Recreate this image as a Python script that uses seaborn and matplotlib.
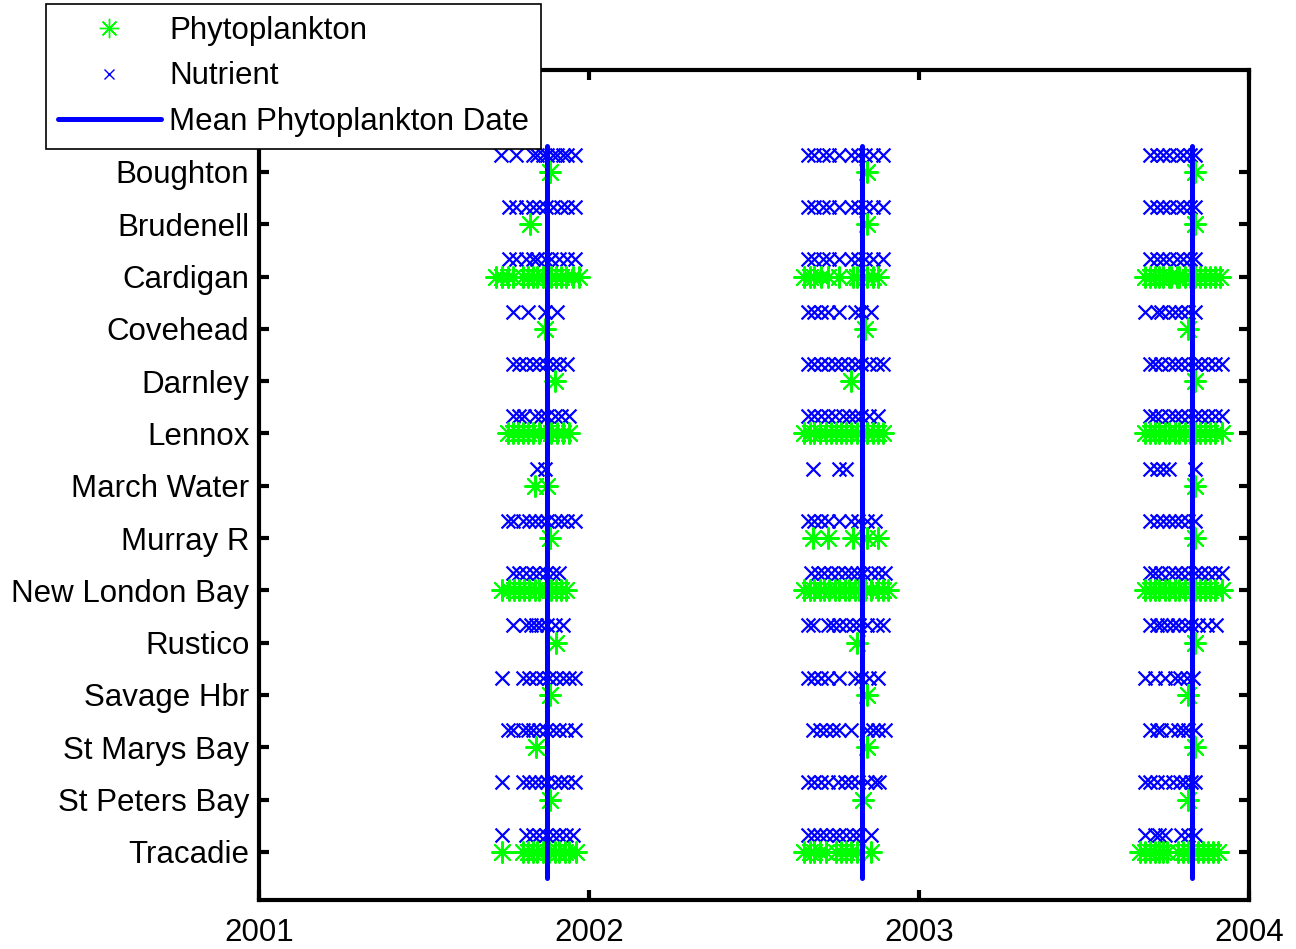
import matplotlib
matplotlib.use("Agg")
import matplotlib.pyplot as plt
import seaborn as sns
import pandas as pd
from matplotlib.lines import Line2D

# ---------------- data (day of year of each sample) ----------------
SITES = ["Boughton", "Brudenell", "Cardigan", "Covehead", "Darnley", "Lennox",
         "March Water", "Murray R", "New London Bay", "Rustico", "Savage Hbr",
         "St Marys Bay", "St Peters Bay", "Tracadie"]
YEARS = [2001, 2002, 2003]
MEAN_PHYTO_DATE = [2001.874, 2002.828, 2003.827]
X_TICKS = [2001, 2002, 2003, 2004]
X_TICK_LABELS = ["2001", "2002", "2003", "2004"]

NUTRIENT_2001 = {
    "Boughton": [268, 284, 303, 308, 314, 319, 325, 330, 336, 341, 349],
    "Brudenell": [277, 284, 295, 303, 310, 317, 325, 334, 341, 349],
    "Cardigan": [277, 284, 295, 303, 308, 316, 323, 332, 341, 349],
    "Covehead": [281, 297, 316, 330],
    "Darnley": [281, 288, 295, 303, 310, 317, 325, 332, 341],
    "Lennox": [281, 288, 293, 305, 312, 319, 327, 334, 343],
    "March Water": [308, 316],
    "Murray R": [275, 281, 292, 299, 305, 312, 319, 327, 334, 341, 349],
    "New London Bay": [281, 288, 295, 303, 310, 317, 325, 332],
    "Rustico": [281, 295, 301, 306, 312, 319, 327, 336],
    "Savage Hbr": [269, 292, 299, 306, 314, 321, 328, 336, 343, 349],
    "St Marys Bay": [275, 281, 292, 297, 303, 310, 317, 325, 332, 340, 349],
    "St Peters Bay": [269, 292, 299, 305, 312, 319, 327, 334, 341, 349],
    "Tracadie": [269, 295, 303, 310, 317, 325, 332, 340, 347],
}
PHYTO_2001 = {
    "Boughton": [322],
    "Brudenell": [300],
    "Cardigan": [262, 269, 275, 281, 292, 297, 303, 308, 314, 323, 328, 334, 340, 347, 354],
    "Covehead": [316],
    "Darnley": [327],
    "Lennox": [275, 281, 286, 292, 297, 303, 310, 317, 323, 330, 336, 343],
    "March Water": [305, 319],
    "Murray R": [322],
    "New London Bay": [269, 277, 282, 288, 293, 299, 305, 310, 317, 323, 328, 334, 340],
    "Rustico": [328],
    "Savage Hbr": [322],
    "St Marys Bay": [306],
    "St Peters Bay": [322],
    "Tracadie": [269, 292, 297, 303, 308, 314, 321, 327, 332, 338, 343, 351],
}
NUTRIENT_2002 = {
    "Boughton": [242, 249, 259, 266, 277, 290, 297, 305, 314, 325],
    "Brudenell": [242, 249, 259, 266, 277, 290, 297, 305, 314, 325],
    "Cardigan": [242, 249, 259, 266, 277, 290, 297, 305, 314, 325],
    "Covehead": [242, 249, 257, 264, 277, 294, 301, 312],
    "Darnley": [242, 249, 257, 264, 272, 279, 286, 294, 301, 310, 318, 325],
    "Lennox": [242, 249, 257, 264, 272, 281, 288, 294, 301, 310, 320],
    "March Water": [248, 277, 284],
    "Murray R": [242, 249, 257, 264, 277, 290, 297, 308, 316],
    "New London Bay": [246, 253, 260, 268, 275, 283, 290, 296, 303, 312, 320, 327],
    "Rustico": [242, 248, 264, 270, 277, 284, 292, 299, 308, 318, 325],
    "Savage Hbr": [242, 249, 257, 264, 277, 294, 301, 310, 320],
    "St Marys Bay": [248, 255, 262, 270, 277, 290, 308, 314, 320, 327],
    "St Peters Bay": [242, 249, 257, 264, 275, 283, 290, 297, 307, 316, 321],
    "Tracadie": [242, 249, 255, 262, 270, 277, 284, 292, 299, 312],
}
PHYTO_2002 = {
    "Boughton": [308],
    "Brudenell": [308],
    "Cardigan": [238, 244, 249, 257, 264, 277, 292, 296, 307, 314, 320],
    "Covehead": [305],
    "Darnley": [290],
    "Lennox": [238, 244, 249, 255, 262, 268, 273, 279, 284, 290, 296, 301, 308, 314, 320, 325],
    "March Water": [],
    "Murray R": [248, 264, 292, 307, 320],
    "New London Bay": [238, 244, 249, 255, 260, 266, 272, 277, 283, 288, 294, 299, 305, 312, 320, 325, 331],
    "Rustico": [296],
    "Savage Hbr": [307],
    "St Marys Bay": [308],
    "St Peters Bay": [303],
    "Tracadie": [238, 244, 249, 255, 262, 273, 279, 284, 290, 296, 312],
}
NUTRIENT_2003 = {
    "Boughton": [255, 263, 270, 277, 285, 292, 300, 305],
    "Brudenell": [255, 263, 270, 277, 285, 292, 300, 305],
    "Cardigan": [255, 263, 270, 277, 285, 292, 300, 305],
    "Covehead": [250, 263, 268, 276, 283, 290, 298, 305],
    "Darnley": [255, 261, 268, 276, 283, 290, 298, 305, 312, 320, 327, 335],
    "Lennox": [255, 261, 268, 276, 283, 290, 298, 305, 312, 320, 327, 335],
    "March Water": [255, 263, 270, 277, 305],
    "Murray R": [255, 263, 270, 277, 283, 290, 298, 305],
    "New London Bay": [255, 261, 268, 276, 283, 290, 298, 305, 312, 320, 327, 335],
    "Rustico": [255, 263, 268, 274, 281, 287, 294, 301, 309, 318, 329],
    "Savage Hbr": [250, 261, 272, 283, 289, 296, 303],
    "St Marys Bay": [255, 263, 268, 279, 287, 292, 298, 305],
    "St Peters Bay": [250, 255, 263, 272, 281, 289, 294, 301, 305],
    "Tracadie": [250, 261, 266, 272, 290, 298, 305],
}
PHYTO_2003 = {
    "Boughton": [305],
    "Brudenell": [305],
    "Cardigan": [250, 255, 261, 266, 270, 276, 279, 285, 288, 294, 300, 305, 311, 316, 322, 327, 333],
    "Covehead": [298],
    "Darnley": [305],
    "Lennox": [250, 255, 261, 266, 272, 277, 283, 288, 294, 300, 305, 311, 316, 322, 327, 335],
    "March Water": [305],
    "Murray R": [305],
    "New London Bay": [250, 255, 261, 266, 272, 277, 283, 288, 294, 300, 305, 311, 316, 322, 327, 335],
    "Rustico": [305],
    "Savage Hbr": [298],
    "St Marys Bay": [305],
    "St Peters Bay": [298],
    "Tracadie": [244, 250, 255, 261, 265, 270, 274, 287, 292, 298, 303, 309, 314, 320, 325, 331],
}

# ---------------- build tidy frames ----------------
site_pos = {s: len(SITES) - i for i, s in enumerate(SITES)}  # Boughton top
NUT_OFFSET = 0.33


def to_frame(tables, offset):
    rows = []
    for year, table in zip(YEARS, tables):
        for site, days in table.items():
            for d in days:
                rows.append({"site": site, "date": year + d / 365.0,
                             "ypos": site_pos[site] + offset})
    return pd.DataFrame(rows)


nut_df = to_frame([NUTRIENT_2001, NUTRIENT_2002, NUTRIENT_2003], NUT_OFFSET)
phy_df = to_frame([PHYTO_2001, PHYTO_2002, PHYTO_2003], 0.0)
mean_df = pd.DataFrame(
    [{"date": m, "ypos": y, "grp": i} for i, m in enumerate(MEAN_PHYTO_DATE)
     for y in (0.5, len(SITES) + 0.5)]
)

# ---------------- plot ----------------
sns.set_theme(style="white")
plt.rcParams["font.family"] = ["Liberation Sans", "DejaVu Sans"]
plt.rcParams["text.color"] = "black"
plt.rcParams["axes.labelcolor"] = "black"
plt.rcParams["xtick.color"] = "black"
plt.rcParams["ytick.color"] = "black"

GREEN = "#00FF00"
BLUE = "#0000FF"
ASTERISK = (8, 2, 0)

fig = plt.figure(figsize=(12.96, 9.49), dpi=100)
ax = fig.add_axes([259 / 1296, 1 - 900 / 949, (1249 - 259) / 1296, (900 - 70) / 949])

sns.scatterplot(data=nut_df, x="date", y="ypos", marker="x", color=BLUE,
                s=10 ** 2, linewidth=1.6, ax=ax, legend=False, zorder=2)
sns.scatterplot(data=phy_df, x="date", y="ypos", marker=ASTERISK, color=GREEN,
                s=15 ** 2, linewidth=1.5, ax=ax, legend=False, zorder=2)
sns.lineplot(data=mean_df, x="date", y="ypos", units="grp", estimator=None,
             color=BLUE, linewidth=3.6, ax=ax, legend=False, zorder=3, sort=False)

ax.set_xlim(2001, 2004)
ax.set_ylim(0.08, 15.95)
ax.set_xticks(X_TICKS)
ax.set_xticklabels(X_TICK_LABELS)
ax.set_yticks([site_pos[s] for s in SITES])
ax.set_yticklabels(SITES)
ax.set_xlabel("")
ax.set_ylabel("")

for sp in ax.spines.values():
    sp.set_visible(True)
    sp.set_linewidth(3)
    sp.set_color("black")

ax.tick_params(axis="both", direction="in", length=7, width=3, color="black",
               labelsize=22.5, labelcolor="black")
ax.tick_params(axis="x", pad=13, top=True, bottom=True)
ax.tick_params(axis="y", pad=7, left=True, right=True)

handles = [
    Line2D([], [], linestyle="none", marker=ASTERISK, color=GREEN, markersize=14,
           markeredgewidth=1.0),
    Line2D([], [], linestyle="none", marker="x", color=BLUE, markersize=7,
           markeredgewidth=1.0),
    Line2D([], [], color=BLUE, linewidth=3.6),
]
labels = ["Phytoplankton", "Nutrient", "Mean Phytoplankton Date"]
leg = fig.legend(handles, labels, loc="upper left",
                 bbox_to_anchor=(46 / 1296, 1 - 4 / 949),
                 fontsize=22.5, frameon=True, fancybox=False, framealpha=1,
                 edgecolor="black", borderpad=0.38, labelspacing=0.5,
                 handlelength=3.3, handletextpad=0.26, borderaxespad=0)
leg.get_frame().set_linewidth(1.2)
for t in leg.get_texts():
    t.set_color("black")

fig.savefig("out.png", dpi=100, facecolor="white")
